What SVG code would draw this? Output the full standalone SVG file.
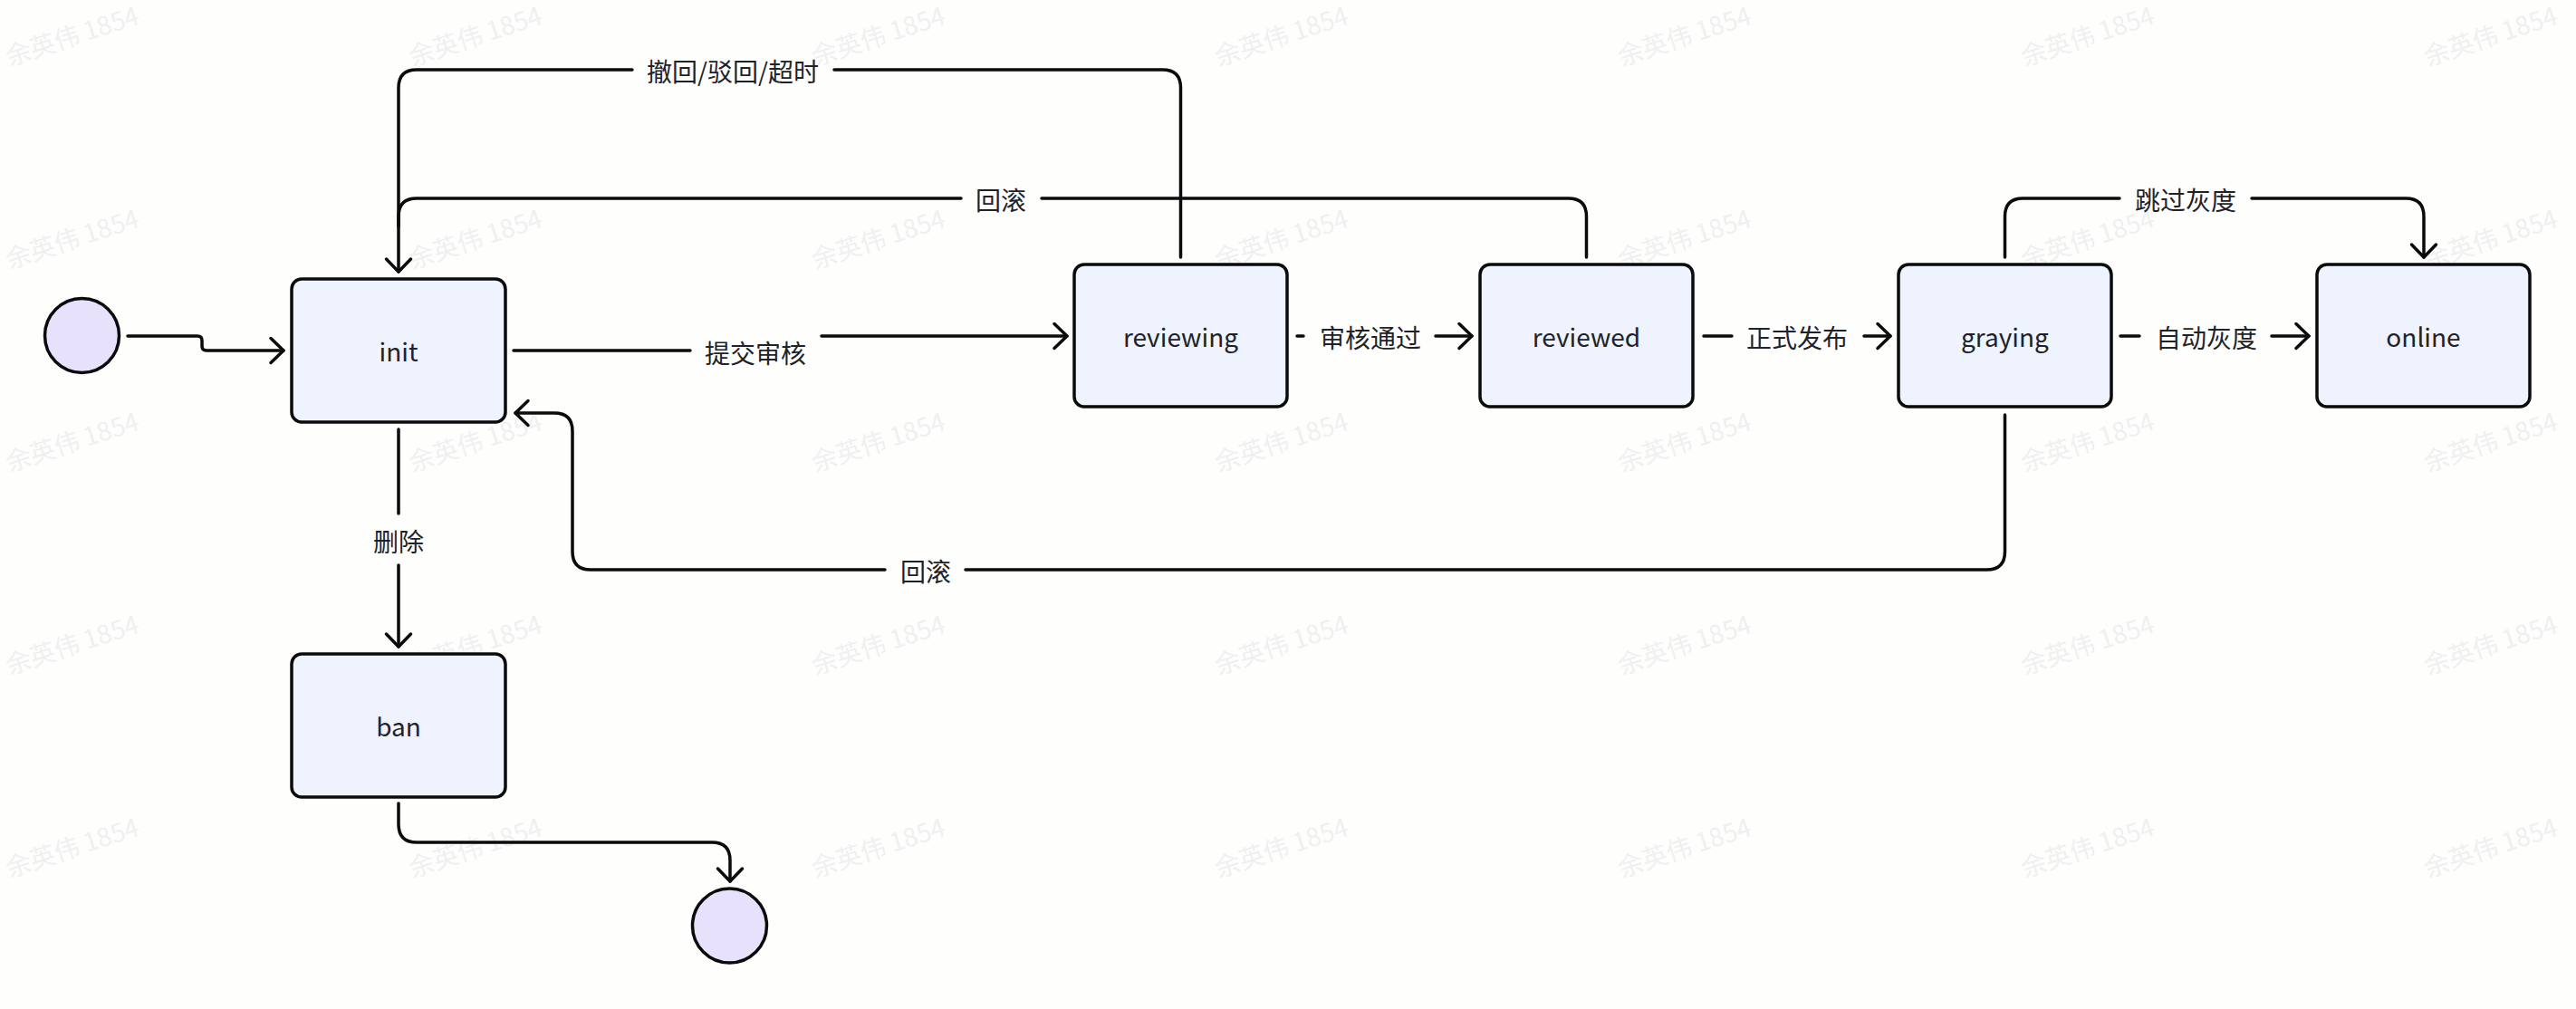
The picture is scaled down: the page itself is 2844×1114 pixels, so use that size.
<svg xmlns="http://www.w3.org/2000/svg" width="2844" height="1114" viewBox="0 0 2844 1114">
  <defs>
    <style>
      .wm { font-family: "Noto Sans CJK SC", "Noto Sans", sans-serif; font-size: 28px; fill: #f0f0f0; text-anchor: middle; dominant-baseline: central; }
      .state rect { fill: #eef3fd; stroke: #0b0b0b; stroke-width: 3.5; }
      .pseudo { fill: #e8e1fb; stroke: #0b0b0b; stroke-width: 3.5; }
      .name { font-family: "Noto Sans CJK SC", "Noto Sans", sans-serif; font-size: 28px; fill: #1f2329; text-anchor: middle; dominant-baseline: central; }
      .edge { fill: none; stroke: #0b0b0b; stroke-width: 3.5; stroke-linecap: round; stroke-linejoin: round; }
      .lbl { font-family: "Noto Sans CJK SC", "Noto Sans", sans-serif; font-size: 28px; fill: #1f2329; text-anchor: middle; dominant-baseline: central; }
    </style>
    <marker id="arrow" viewBox="-20 -20 30 40" refX="0" refY="0" markerWidth="30" markerHeight="40" markerUnits="userSpaceOnUse" orient="auto">
      <path d="M-14,-13.5 L0,0 L-14,13.5" fill="none" stroke="#0b0b0b" stroke-width="3.5" stroke-linecap="round" stroke-linejoin="round"/>
    </marker>
  </defs>

  <rect width="2844" height="1114" fill="#fefefd"/>

  <!-- background watermark grid -->
  <g id="watermark">
    <text class="wm" x="79" y="38" transform="rotate(-18 79 38)">余英伟 1854</text>
    <text class="wm" x="524" y="38" transform="rotate(-18 524 38)">余英伟 1854</text>
    <text class="wm" x="969" y="38" transform="rotate(-18 969 38)">余英伟 1854</text>
    <text class="wm" x="1414" y="38" transform="rotate(-18 1414 38)">余英伟 1854</text>
    <text class="wm" x="1859" y="38" transform="rotate(-18 1859 38)">余英伟 1854</text>
    <text class="wm" x="2304" y="38" transform="rotate(-18 2304 38)">余英伟 1854</text>
    <text class="wm" x="2749" y="38" transform="rotate(-18 2749 38)">余英伟 1854</text>
    <text class="wm" x="79" y="262" transform="rotate(-18 79 262)">余英伟 1854</text>
    <text class="wm" x="524" y="262" transform="rotate(-18 524 262)">余英伟 1854</text>
    <text class="wm" x="969" y="262" transform="rotate(-18 969 262)">余英伟 1854</text>
    <text class="wm" x="1414" y="262" transform="rotate(-18 1414 262)">余英伟 1854</text>
    <text class="wm" x="1859" y="262" transform="rotate(-18 1859 262)">余英伟 1854</text>
    <text class="wm" x="2304" y="262" transform="rotate(-18 2304 262)">余英伟 1854</text>
    <text class="wm" x="2749" y="262" transform="rotate(-18 2749 262)">余英伟 1854</text>
    <text class="wm" x="79" y="486" transform="rotate(-18 79 486)">余英伟 1854</text>
    <text class="wm" x="524" y="486" transform="rotate(-18 524 486)">余英伟 1854</text>
    <text class="wm" x="969" y="486" transform="rotate(-18 969 486)">余英伟 1854</text>
    <text class="wm" x="1414" y="486" transform="rotate(-18 1414 486)">余英伟 1854</text>
    <text class="wm" x="1859" y="486" transform="rotate(-18 1859 486)">余英伟 1854</text>
    <text class="wm" x="2304" y="486" transform="rotate(-18 2304 486)">余英伟 1854</text>
    <text class="wm" x="2749" y="486" transform="rotate(-18 2749 486)">余英伟 1854</text>
    <text class="wm" x="79" y="710" transform="rotate(-18 79 710)">余英伟 1854</text>
    <text class="wm" x="524" y="710" transform="rotate(-18 524 710)">余英伟 1854</text>
    <text class="wm" x="969" y="710" transform="rotate(-18 969 710)">余英伟 1854</text>
    <text class="wm" x="1414" y="710" transform="rotate(-18 1414 710)">余英伟 1854</text>
    <text class="wm" x="1859" y="710" transform="rotate(-18 1859 710)">余英伟 1854</text>
    <text class="wm" x="2304" y="710" transform="rotate(-18 2304 710)">余英伟 1854</text>
    <text class="wm" x="2749" y="710" transform="rotate(-18 2749 710)">余英伟 1854</text>
    <text class="wm" x="79" y="934" transform="rotate(-18 79 934)">余英伟 1854</text>
    <text class="wm" x="524" y="934" transform="rotate(-18 524 934)">余英伟 1854</text>
    <text class="wm" x="969" y="934" transform="rotate(-18 969 934)">余英伟 1854</text>
    <text class="wm" x="1414" y="934" transform="rotate(-18 1414 934)">余英伟 1854</text>
    <text class="wm" x="1859" y="934" transform="rotate(-18 1859 934)">余英伟 1854</text>
    <text class="wm" x="2304" y="934" transform="rotate(-18 2304 934)">余英伟 1854</text>
    <text class="wm" x="2749" y="934" transform="rotate(-18 2749 934)">余英伟 1854</text>
  </g>

  <!-- transitions -->
  <g id="connectors">
    <path class="edge" marker-end="url(#arrow)" d="M141,371 H218 q5,0 5,5 V382 q0,5 5,5 H313"/>
    <path class="edge" marker-end="url(#arrow)" d="M567,387 H762 M907,371 H1178"/>
    <path class="edge" marker-end="url(#arrow)" d="M1303.5,284 V97 q0,-20 -20,-20 H921 M698,77 H460 q-20,0 -20,20 V300"/>
    <path class="edge" d="M1751.5,284 V239 q0,-20 -20,-20 H1150 M1061,219 H460 q-20,0 -20,20 V250"/>
    <path class="edge" marker-end="url(#arrow)" d="M440,474 V567 M440,624 V714"/>
    <path class="edge" marker-end="url(#arrow)" d="M440,887 V910 q0,20 20,20 H786 q20,0 20,20 V973"/>
    <path class="edge" marker-end="url(#arrow)" d="M1432,371 H1439 M1585,371 H1625"/>
    <path class="edge" marker-end="url(#arrow)" d="M1881,371 H1912 M2058,371 H2087"/>
    <path class="edge" marker-end="url(#arrow)" d="M2341,371 H2362 M2508,371 H2549"/>
    <path class="edge" marker-end="url(#arrow)" d="M2213.5,284 V239 q0,-20 20,-20 H2340 M2486,219 H2656 q20,0 20,20 V284"/>
    <path class="edge" marker-end="url(#arrow)" d="M2213.5,458 V609 q0,20 -20,20 H1066 M977,629 H652 q-20,0 -20,-20 V476 q0,-20 -20,-20 H569"/>

    <text class="lbl" x="834" y="389">提交审核</text>
    <text class="lbl" x="809" y="78">撤回/驳回/超时</text>
    <text class="lbl" x="1105" y="220">回滚</text>
    <text class="lbl" x="440" y="597">删除</text>
    <text class="lbl" x="1513" y="372">审核通过</text>
    <text class="lbl" x="1984" y="372">正式发布</text>
    <text class="lbl" x="2436" y="372">自动灰度</text>
    <text class="lbl" x="2413" y="220">跳过灰度</text>
    <text class="lbl" x="1022" y="630">回滚</text>
  </g>

  <!-- pseudo states -->
  <g id="start">
    <circle class="pseudo" cx="90.5" cy="370.5" r="41"/>
  </g>
  <g id="end">
    <circle class="pseudo" cx="805.5" cy="1022" r="41"/>
  </g>

  <!-- states -->
  <g id="init" class="state">
    <rect x="322" y="308" width="236" height="158" rx="11"/>
    <text class="name" x="440" y="387">init</text>
  </g>
  <g id="reviewing" class="state">
    <rect x="1186" y="292" width="235" height="157" rx="11"/>
    <text class="name" x="1303.5" y="370.5">reviewing</text>
  </g>
  <g id="reviewed" class="state">
    <rect x="1634" y="292" width="235" height="157" rx="11"/>
    <text class="name" x="1751.5" y="370.5">reviewed</text>
  </g>
  <g id="graying" class="state">
    <rect x="2096" y="292" width="235" height="157" rx="11"/>
    <text class="name" x="2213.5" y="370.5">graying</text>
  </g>
  <g id="online" class="state">
    <rect x="2558" y="292" width="235" height="157" rx="11"/>
    <text class="name" x="2675.5" y="370.5">online</text>
  </g>
  <g id="ban" class="state">
    <rect x="322" y="722" width="236" height="158" rx="11"/>
    <text class="name" x="440" y="801">ban</text>
  </g>
</svg>
